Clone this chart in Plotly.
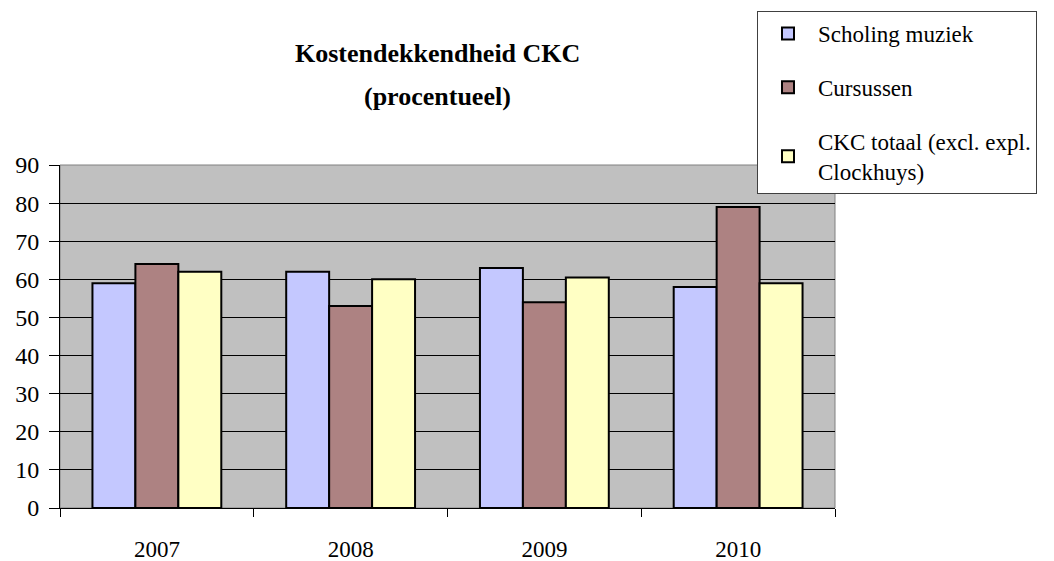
import plotly.graph_objects as go

years = ["2007", "2008", "2009", "2010"]
series_names = ["Scholing muziek", "Cursussen", "CKC totaal (excl. expl.<br>Clockhuys)"]
scholing = [59, 62, 63, 58]
cursussen = [64, 53, 54, 79]
ckc_totaal = [62, 60, 60.5, 59]
colors = ["#c4c8ff", "#ad8282", "#ffffc4"]

FONT = "Liberation Serif"

# page body has an 8px margin, so figure coordinates are reference minus 8
L, R, T, B = 52, 827, 157, 500
W, H = R - L, B - T

fig = go.Figure()
for i, (name, vals) in enumerate(zip(series_names, [scholing, cursussen, ckc_totaal])):
    fig.add_trace(go.Bar(
        x=years, y=vals, name=name, legendgroup=f"g{i}",
        marker=dict(color=colors[i], line=dict(color="black", width=2)),
    ))

fig.update_layout(
    width=1054, height=561,
    margin=dict(l=L, r=1054 - R, t=T, b=561 - B, autoexpand=False),
    paper_bgcolor="white", plot_bgcolor="#c0c0c0",
    font=dict(family=FONT, size=20, color="black"),
    barmode="group", bargap=0.335, bargroupgap=0,
    showlegend=True,
    legend=dict(
        xref="paper", yref="paper",
        x=(749 - L) / W, y=(B - 3) / H, xanchor="left", yanchor="top",
        bordercolor="#404040", borderwidth=1, bgcolor="white",
        font=dict(family=FONT, size=23),
        tracegroupgap=21, itemwidth=50,
    ),
    annotations=[
        dict(text="<b>Kostendekkendheid CKC</b>", xref="paper", yref="paper",
             x=(429 - L) / W, y=(B - 45) / H, showarrow=False,
             font=dict(family=FONT, size=26), xanchor="center", yanchor="middle"),
        dict(text="<b>(procentueel)</b>", xref="paper", yref="paper",
             x=(429 - L) / W, y=(B - 88) / H, showarrow=False,
             font=dict(family=FONT, size=26), xanchor="center", yanchor="middle"),
    ],
    shapes=[dict(type="rect", xref="paper", yref="paper", x0=0, y0=0, x1=1, y1=1,
                 line=dict(color="#808080", width=1), layer="below")],
)
fig.update_yaxes(range=[0, 90], dtick=10, showgrid=True, gridcolor="black", gridwidth=1,
                 ticks="outside", ticklen=10, tickcolor="black", showline=True,
                 linecolor="black", linewidth=1, zeroline=False, automargin=False,
                 ticklabelstandoff=5, tickfont=dict(family=FONT, size=24))
fig.update_xaxes(tickson="boundaries", ticks="outside", ticklen=8, tickcolor="black",
                 showline=True, linecolor="black", linewidth=1, automargin=False,
                 ticklabelstandoff=20, tickfont=dict(family=FONT, size=23))

fig.write_html("out.html")
